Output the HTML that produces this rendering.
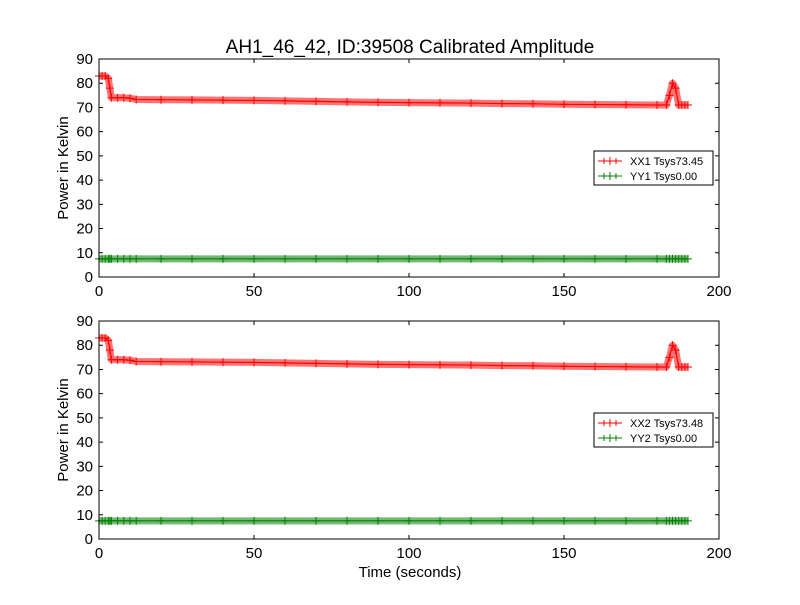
<!DOCTYPE html>
<html><head><meta charset="utf-8"><style>
body{margin:0;background:#fff;}
svg text{font-family:"Liberation Sans","DejaVu Sans",sans-serif;}
</style></head><body>
<svg id="chart" width="800" height="600" xmlns="http://www.w3.org/2000/svg">
<rect width="800" height="600" fill="#fff"/>
<text x="410" y="53" font-size="19" text-anchor="middle">AH1_46_42, ID:39508 Calibrated Amplitude</text>
<text x="410" y="577" font-size="15" text-anchor="middle">Time (seconds)</text>
</svg>
<script>
const times = [0,1,2,3,3.5,4,6,8,10,12,20,30,40,50,60,70,80,90,100,110,120,130,140,150,160,170,180,183,184,185,186,187,188,189,190];
const xx1 = [83,83,83,82,78,74,74,74,73.8,73.3,73.2,73.1,73,72.9,72.7,72.5,72.3,72.1,72,71.9,71.8,71.6,71.5,71.3,71.2,71.1,71,71,75,80,78,71,71,71,71];
const yy1 = [7.5,7.5,7.5,7.5,7.5,7.5,7.5,7.5,7.5,7.5,7.5,7.5,7.5,7.5,7.5,7.5,7.5,7.5,7.5,7.5,7.5,7.5,7.5,7.5,7.5,7.5,7.5,7.5,7.5,7.5,7.5,7.5,7.5,7.5,7.5];
const xx2 = [83,83,83,82,78,74,74,74,73.8,73.3,73.2,73.1,73,72.9,72.7,72.5,72.3,72.1,72,71.9,71.8,71.6,71.5,71.3,71.2,71.1,71,71,75,80,78,71,71,71,71];
const yy2 = [7.5,7.5,7.5,7.5,7.5,7.5,7.5,7.5,7.5,7.5,7.5,7.5,7.5,7.5,7.5,7.5,7.5,7.5,7.5,7.5,7.5,7.5,7.5,7.5,7.5,7.5,7.5,7.5,7.5,7.5,7.5,7.5,7.5,7.5,7.5];
const xTicks = [0,50,100,150,200];
const yTicks = [0,10,20,30,40,50,60,70,80,90];
const panels = [
  {top:59, red:xx1, green:yy1, redLabel:"XX1 Tsys73.45", greenLabel:"YY1 Tsys0.00", n:1},
  {top:321, red:xx2, green:yy2, redLabel:"XX2 Tsys73.48", greenLabel:"YY2 Tsys0.00", n:2}
];
const svg = document.getElementById('chart');
const NS = "http://www.w3.org/2000/svg";
function mk(tag, attrs, parent){const e=document.createElementNS(NS,tag);for(const k in attrs)e.setAttribute(k,attrs[k]);(parent||svg).appendChild(e);return e;}
const L=99,R=719,H=218;
panels.forEach(p=>{
  const X=t=>L+(t-0)/200*(R-L);
  const Y=v=>p.top+H-(v/90)*H;
  const g=mk('g',{});
  
  
  function series(vals,color,name){
    const pts=times.map((t,i)=>X(t)+','+Y(vals[i])).join(' ');
    const band=mk('polyline',{points:pts,fill:'none',stroke:color,'stroke-opacity':0.55,'stroke-width':7,'stroke-linejoin':'round'},g);
    
    
    const line=mk('polyline',{points:pts,fill:'none',stroke:color,'stroke-width':1.2},g);
    
    
    times.forEach((t,i)=>{
      const x=X(t),y=Y(vals[i]);
      const m=mk('path',{d:`M${x-4},${y}H${x+4}M${x},${y-4}V${y+4}`,stroke:color,'stroke-width':1},g);
      
      
    });
  }
  series(p.red,'#ff0000','red-series-'+p.n);
  series(p.green,'#008000','green-series-'+p.n);
  const fr=mk('rect',{x:L,y:p.top,width:R-L,height:H,fill:'none',stroke:'#000','stroke-width':1},g);
  
  
  xTicks.forEach(t=>{
    const x=X(t);
    mk('path',{d:`M${x},${p.top+H}v-4M${x},${p.top}v4`,stroke:'#000'},g);
    const tx=mk('text',{x:x,y:p.top+H+19,'font-size':15,'text-anchor':'middle'},g);
    tx.textContent=t;
    
    
  });
  yTicks.forEach(v=>{
    const y=Y(v);
    mk('path',{d:`M${L},${y}h4M${R},${y}h-4`,stroke:'#000'},g);
    const tx=mk('text',{x:L-6,y:y+5,'font-size':15,'text-anchor':'end'},g);
    tx.textContent=v;
    
    
  });
  const yt=mk('text',{x:68,y:p.top+H/2,'font-size':15,'text-anchor':'middle',transform:`rotate(-90 68 ${p.top+H/2})`},g);
  yt.textContent='Power in Kelvin';
  
  
  const ly=p.top+92;
  const lg=mk('g',{},g);
  
  
  mk('rect',{x:594,y:ly,width:119,height:34,fill:'#fff',stroke:'#000'},lg);
  [[p.redLabel,'#ff0000',ly+10],[p.greenLabel,'#008000',ly+25]].forEach(([lab,c,yy])=>{
    mk('path',{d:`M598,${yy}h24M610,${yy-4}v8M604,${yy-3}v6M616,${yy-3}v6`,stroke:c},lg);
    const t=mk('text',{x:630,y:yy+4,'font-size':11},lg);
    t.textContent=lab;
    
    
  });
});
</script>
</body></html>
